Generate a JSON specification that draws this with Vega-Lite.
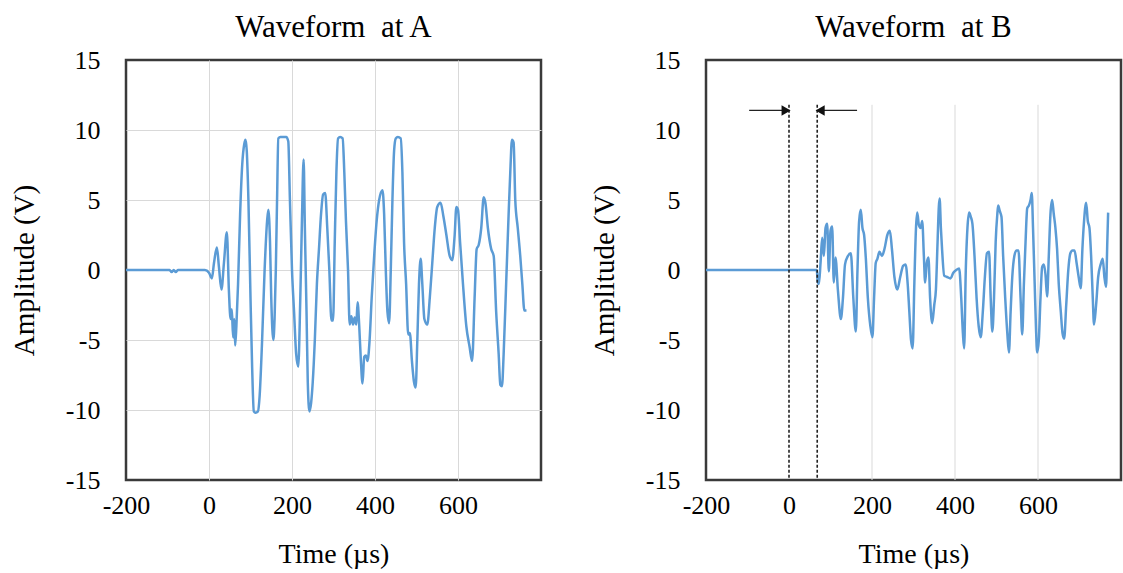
{
  "$schema": "https://vega.github.io/schema/vega-lite/v6.json",
  "padding": {"left": 9, "top": 10, "right": 0, "bottom": 0},
  "background": "white",
  "datasets": {
    "A": [
      {"t": -200, "v": 0}, {"t": -95, "v": 0}, {"t": -90, "v": -0.15}, {"t": -85, "v": 0}, {"t": -80, "v": -0.15}, {"t": -75, "v": 0},
      {"t": -10, "v": 0}, {"t": 0, "v": -0.2}, {"t": 7, "v": -0.6}, {"t": 12, "v": 0.5}, {"t": 19, "v": 1.6}, {"t": 24, "v": 0.2},
      {"t": 30, "v": -1.4}, {"t": 36, "v": 0.5}, {"t": 43, "v": 2.7}, {"t": 48, "v": -1.5}, {"t": 52, "v": -3.5}, {"t": 55, "v": -2.8},
      {"t": 58, "v": -4.8}, {"t": 61, "v": -3.5}, {"t": 63, "v": -5.4}, {"t": 66, "v": -4}, {"t": 70, "v": -1}, {"t": 75, "v": 4},
      {"t": 80, "v": 7.5}, {"t": 85, "v": 9.0}, {"t": 88, "v": 9.3}, {"t": 91, "v": 8.5}, {"t": 95, "v": 5}, {"t": 100, "v": -2},
      {"t": 104, "v": -7}, {"t": 108, "v": -10.1}, {"t": 112, "v": -10.2}, {"t": 118, "v": -10.1}, {"t": 122, "v": -9}, {"t": 128, "v": -5},
      {"t": 134, "v": 0}, {"t": 140, "v": 3.5}, {"t": 143, "v": 4.3}, {"t": 147, "v": 2}, {"t": 150, "v": -2}, {"t": 155, "v": -5},
      {"t": 158, "v": -3.5}, {"t": 161, "v": 0}, {"t": 164, "v": 5}, {"t": 167, "v": 9.4}, {"t": 172, "v": 9.5}, {"t": 186, "v": 9.5},
      {"t": 191, "v": 9.2}, {"t": 195, "v": 5}, {"t": 200, "v": 0}, {"t": 205, "v": -3}, {"t": 210, "v": -6}, {"t": 215, "v": -6.9},
      {"t": 220, "v": -2}, {"t": 224, "v": 3.6}, {"t": 228, "v": 7.9}, {"t": 231, "v": 3}, {"t": 235, "v": -3}, {"t": 238, "v": -8},
      {"t": 242, "v": -10.1}, {"t": 246, "v": -9.5}, {"t": 250, "v": -8}, {"t": 255, "v": -5}, {"t": 260, "v": -1}, {"t": 265, "v": 1.5},
      {"t": 270, "v": 4}, {"t": 275, "v": 5.4}, {"t": 280, "v": 5.5}, {"t": 285, "v": 3}, {"t": 290, "v": 0}, {"t": 295, "v": -3.6},
      {"t": 299, "v": -3.6}, {"t": 303, "v": 2}, {"t": 307, "v": 7}, {"t": 311, "v": 9.4}, {"t": 316, "v": 9.5}, {"t": 322, "v": 9.4},
      {"t": 326, "v": 7}, {"t": 330, "v": 3.5}, {"t": 335, "v": 0}, {"t": 339, "v": -3.9}, {"t": 343, "v": -3.3}, {"t": 347, "v": -3.9},
      {"t": 351, "v": -3.4}, {"t": 355, "v": -3.9}, {"t": 358, "v": -2.3}, {"t": 362, "v": -4}, {"t": 366, "v": -6.5}, {"t": 370, "v": -8.1},
      {"t": 374, "v": -6.2}, {"t": 378, "v": -6.1}, {"t": 382, "v": -6.5}, {"t": 387, "v": -5}, {"t": 392, "v": -2}, {"t": 398, "v": 1},
      {"t": 404, "v": 3.5}, {"t": 410, "v": 5}, {"t": 418, "v": 5.7}, {"t": 422, "v": 4}, {"t": 426, "v": 0}, {"t": 430, "v": -3},
      {"t": 434, "v": -3.8}, {"t": 438, "v": 0}, {"t": 442, "v": 5}, {"t": 446, "v": 8.5}, {"t": 450, "v": 9.4}, {"t": 455, "v": 9.5},
      {"t": 462, "v": 9.4}, {"t": 466, "v": 7}, {"t": 470, "v": 2}, {"t": 475, "v": -1}, {"t": 480, "v": -4.6}, {"t": 484, "v": -4.5},
      {"t": 489, "v": -6.5}, {"t": 494, "v": -8}, {"t": 498, "v": -8.4}, {"t": 502, "v": -5}, {"t": 506, "v": -1}, {"t": 510, "v": 0.8},
      {"t": 514, "v": -1}, {"t": 519, "v": -3.5}, {"t": 526, "v": -3.9}, {"t": 532, "v": -2}, {"t": 538, "v": 0.5}, {"t": 544, "v": 3},
      {"t": 550, "v": 4.5}, {"t": 558, "v": 4.8}, {"t": 565, "v": 3.8}, {"t": 572, "v": 2.5}, {"t": 580, "v": 1.0}, {"t": 586, "v": 0.7},
      {"t": 592, "v": 2.5}, {"t": 596, "v": 4.5}, {"t": 600, "v": 4.3}, {"t": 605, "v": 2}, {"t": 612, "v": -1}, {"t": 620, "v": -4},
      {"t": 628, "v": -5.5}, {"t": 634, "v": -6.5}, {"t": 640, "v": -2}, {"t": 645, "v": 1.5}, {"t": 650, "v": 1.8}, {"t": 656, "v": 3},
      {"t": 662, "v": 5.2}, {"t": 666, "v": 4.8}, {"t": 672, "v": 3}, {"t": 680, "v": 1.5}, {"t": 686, "v": 1.0}, {"t": 692, "v": -3},
      {"t": 698, "v": -6}, {"t": 702, "v": -8.2}, {"t": 706, "v": -8.3}, {"t": 710, "v": -6}, {"t": 716, "v": -1}, {"t": 722, "v": 4},
      {"t": 726, "v": 7}, {"t": 730, "v": 9.3}, {"t": 734, "v": 9.1}, {"t": 738, "v": 5}, {"t": 744, "v": 3}, {"t": 750, "v": 1},
      {"t": 755, "v": -1}, {"t": 760, "v": -2.9}, {"t": 765, "v": -2.9}
    ],
    "B": [
      {"t": -200, "v": 0}, {"t": 67, "v": 0}, {"t": 69, "v": -0.8}, {"t": 72, "v": -1}, {"t": 76, "v": 0.5}, {"t": 80, "v": 2.3},
      {"t": 84, "v": 1}, {"t": 88, "v": 3.0}, {"t": 92, "v": 3.3}, {"t": 96, "v": -0.1}, {"t": 100, "v": 2.8}, {"t": 104, "v": 3.1},
      {"t": 108, "v": -0.9}, {"t": 112, "v": 0.9}, {"t": 118, "v": -1.5}, {"t": 125, "v": -3.5}, {"t": 130, "v": -2}, {"t": 135, "v": 0.4},
      {"t": 142, "v": 1.0}, {"t": 149, "v": 1.2}, {"t": 155, "v": -2}, {"t": 161, "v": -4.4}, {"t": 165, "v": 0}, {"t": 169, "v": 3.5},
      {"t": 173, "v": 4.3}, {"t": 177, "v": 3}, {"t": 181, "v": 2.5}, {"t": 185, "v": 0.9}, {"t": 190, "v": -2}, {"t": 196, "v": -4.0},
      {"t": 201, "v": -4.8}, {"t": 205, "v": -2}, {"t": 209, "v": 0.5}, {"t": 213, "v": 0.8}, {"t": 218, "v": 1.3}, {"t": 224, "v": 1.0},
      {"t": 230, "v": 1.5}, {"t": 237, "v": 2.5}, {"t": 243, "v": 2.8}, {"t": 248, "v": 1.5}, {"t": 254, "v": -0.5}, {"t": 261, "v": -1.4},
      {"t": 268, "v": -0.5}, {"t": 275, "v": 0.3}, {"t": 281, "v": 0.4}, {"t": 286, "v": -1}, {"t": 290, "v": -3}, {"t": 294, "v": -5.0},
      {"t": 298, "v": -5.6}, {"t": 302, "v": -1}, {"t": 306, "v": 3}, {"t": 309, "v": 4.1}, {"t": 313, "v": 3.2}, {"t": 317, "v": 3},
      {"t": 321, "v": 3.5}, {"t": 325, "v": 1.0}, {"t": 328, "v": -0.9}, {"t": 332, "v": 0.5}, {"t": 336, "v": 0.9}, {"t": 340, "v": -2},
      {"t": 345, "v": -3.8}, {"t": 350, "v": -2.5}, {"t": 354, "v": -1.4}, {"t": 358, "v": 2}, {"t": 361, "v": 4.5}, {"t": 363, "v": 5.1},
      {"t": 366, "v": 3}, {"t": 369, "v": 1.4}, {"t": 374, "v": -0.4}, {"t": 381, "v": -0.5}, {"t": 389, "v": -0.6}, {"t": 396, "v": -0.2},
      {"t": 403, "v": 0.0}, {"t": 410, "v": 0.1}, {"t": 415, "v": -2}, {"t": 419, "v": -4.5}, {"t": 422, "v": -5.6}, {"t": 426, "v": 0},
      {"t": 430, "v": 3}, {"t": 434, "v": 4.1}, {"t": 438, "v": 3.8}, {"t": 442, "v": 3.3}, {"t": 447, "v": 1}, {"t": 452, "v": -2},
      {"t": 457, "v": -4}, {"t": 462, "v": -4.8}, {"t": 467, "v": -3}, {"t": 472, "v": -0.5}, {"t": 477, "v": 1.2}, {"t": 482, "v": 1.3},
      {"t": 486, "v": -2}, {"t": 490, "v": -4.4}, {"t": 494, "v": -2}, {"t": 498, "v": 2}, {"t": 502, "v": 4.0}, {"t": 504, "v": 4.6},
      {"t": 508, "v": 4.2}, {"t": 512, "v": 3.8}, {"t": 516, "v": 1}, {"t": 521, "v": -2}, {"t": 526, "v": -4.5}, {"t": 530, "v": -5.9},
      {"t": 534, "v": -3}, {"t": 538, "v": -0.5}, {"t": 543, "v": 1.0}, {"t": 548, "v": 1.4}, {"t": 553, "v": 1.4}, {"t": 558, "v": -2},
      {"t": 562, "v": -4.6}, {"t": 566, "v": -1}, {"t": 570, "v": 2}, {"t": 574, "v": 4.4}, {"t": 578, "v": 4.6}, {"t": 582, "v": 5.0},
      {"t": 585, "v": 5.5}, {"t": 588, "v": 3}, {"t": 592, "v": -1}, {"t": 595, "v": -4}, {"t": 598, "v": -5.9}, {"t": 602, "v": -5},
      {"t": 606, "v": -2}, {"t": 610, "v": 0.2}, {"t": 614, "v": 0.4}, {"t": 618, "v": -0.3}, {"t": 622, "v": -1.9}, {"t": 626, "v": 1},
      {"t": 630, "v": 4}, {"t": 634, "v": 5.0}, {"t": 638, "v": 4}, {"t": 642, "v": 3.0}, {"t": 646, "v": 1.5}, {"t": 650, "v": -1},
      {"t": 655, "v": -3}, {"t": 659, "v": -4.5}, {"t": 663, "v": -4.9}, {"t": 668, "v": -2.5}, {"t": 673, "v": 0}, {"t": 678, "v": 1.2},
      {"t": 683, "v": 1.4}, {"t": 688, "v": 1.4}, {"t": 693, "v": 0.5}, {"t": 698, "v": -0.5}, {"t": 703, "v": -1.3}, {"t": 707, "v": 1.5},
      {"t": 711, "v": 3.5}, {"t": 716, "v": 4.8}, {"t": 720, "v": 3.5}, {"t": 724, "v": 3.0}, {"t": 728, "v": 1.0}, {"t": 732, "v": -2},
      {"t": 735, "v": -3.9}, {"t": 740, "v": -2.5}, {"t": 745, "v": -0.5}, {"t": 751, "v": 0.4}, {"t": 756, "v": 0.8}, {"t": 760, "v": -0.5},
      {"t": 764, "v": -1.2}, {"t": 767, "v": 2}, {"t": 769, "v": 4.1}
    ],
    "gridB": [{"t": 200}, {"t": 400}, {"t": 600}],
    "dashes": [{"t": 0}, {"t": 68}],
    "shafts": [{"from": -96, "to": -8}, {"from": 76, "to": 164}],
    "heads": [{"t": -7, "dir": "right"}, {"t": 75, "dir": "left"}]
  },
  "config": {
    "font": "Liberation Serif",
    "view": {"stroke": "#3a3a3a", "strokeWidth": 2.5},
    "axis": {
      "domain": false, "ticks": false, "tickSize": 0,
      "labelFont": "Liberation Serif", "labelFontSize": 26, "labelColor": "#000",
      "titleFont": "Liberation Serif", "titleFontWeight": "normal", "titleColor": "#000",
      "gridColor": "#d9d9d9", "gridWidth": 1, "labelFlush": false, "labelOverlap": false,
      "gridOpacity": {"condition": {"test": "abs(datum.value) == 15 || datum.value == -200", "value": 0}, "value": 1}
    },
    "axisX": {"labelPadding": 12, "titlePadding": 22, "titleFontSize": 28},
    "axisY": {"labelPadding": 26, "titlePadding": 26, "titleFontSize": 29},
    "title": {"font": "Liberation Serif", "fontSize": 31, "fontWeight": "normal", "color": "#000", "offset": 3},
    "concat": {"spacing": 46}
  },
  "hconcat": [
    {
      "title": "Waveform\u00a0 at A",
      "width": 415, "height": 420,
      "data": {"name": "A"},
      "mark": {"type": "line", "color": "#5b9bd5", "strokeWidth": 2.5, "interpolate": "monotone"},
      "encoding": {
        "x": {"field": "t", "type": "quantitative", "scale": {"domain": [-200, 800], "nice": false},
          "axis": {"values": [-200, 0, 200, 400, 600], "title": "Time (µs)",
            "labelExpr": "datum.value < 0 ? '-' + abs(datum.value) : '' + datum.value"}},
        "y": {"field": "v", "type": "quantitative", "scale": {"domain": [-15, 15], "nice": false},
          "axis": {"values": [-15, -10, -5, 0, 5, 10, 15], "title": "Amplitude (V)",
            "labelExpr": "datum.value < 0 ? '-' + abs(datum.value) : '' + datum.value"}}
      }
    },
    {
      "title": "Waveform\u00a0 at B",
      "width": 415, "height": 420,
      "layer": [
        {
          "data": {"name": "gridB"},
          "mark": {"type": "rule", "color": "#d9d9d9", "strokeWidth": 1},
          "encoding": {"x": {"field": "t", "type": "quantitative"}, "y": {"datum": 11.8}, "y2": {"datum": -15}}
        },
        {
          "data": {"name": "B"},
          "mark": {"type": "line", "color": "#5b9bd5", "strokeWidth": 2.5, "interpolate": "monotone"},
          "encoding": {
            "x": {"field": "t", "type": "quantitative", "scale": {"domain": [-200, 800], "nice": false},
              "axis": {"values": [-200, 0, 200, 400, 600], "grid": false, "title": "Time (µs)",
                "labelExpr": "datum.value < 0 ? '-' + abs(datum.value) : '' + datum.value"}},
            "y": {"field": "v", "type": "quantitative", "scale": {"domain": [-15, 15], "nice": false},
              "axis": {"values": [-15, -10, -5, 0, 5, 10, 15], "title": "Amplitude (V)",
                "labelExpr": "datum.value < 0 ? '-' + abs(datum.value) : '' + datum.value"}}
          }
        },
        {
          "data": {"name": "dashes"},
          "mark": {"type": "rule", "color": "#222", "strokeWidth": 1.6, "strokeDash": [3, 2]},
          "encoding": {"x": {"field": "t", "type": "quantitative"}, "y": {"datum": 11.8}, "y2": {"datum": -15}}
        },
        {
          "data": {"name": "shafts"},
          "mark": {"type": "rule", "color": "#222", "strokeWidth": 1.2},
          "encoding": {"x": {"field": "from", "type": "quantitative"}, "x2": {"field": "to"}, "y": {"datum": 11.4}}
        },
        {
          "data": {"name": "heads"},
          "mark": {"type": "point", "filled": true, "color": "#111", "size": 110, "opacity": 1},
          "encoding": {
            "x": {"field": "t", "type": "quantitative"},
            "y": {"datum": 11.4},
            "shape": {"field": "dir", "type": "nominal", "scale": {"domain": ["right", "left"], "range": ["triangle-right", "triangle-left"]}, "legend": null}
          }
        }
      ]
    }
  ]
}
